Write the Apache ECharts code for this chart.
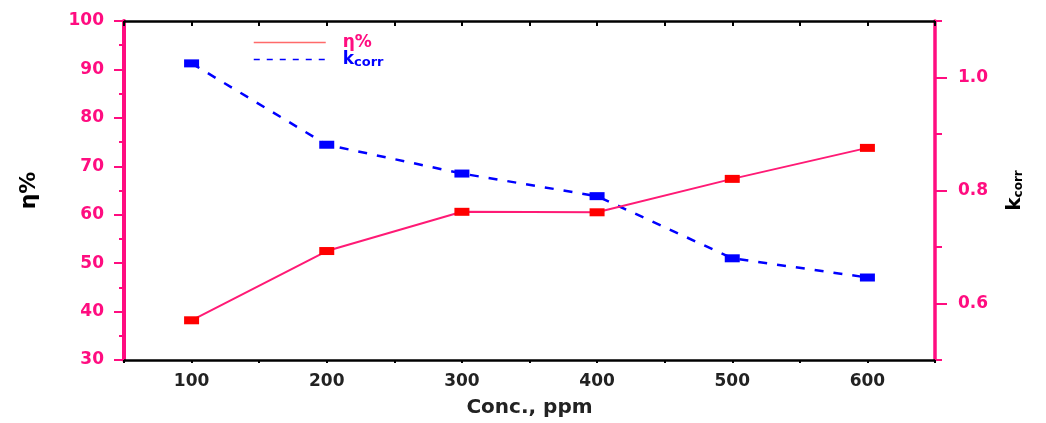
<!DOCTYPE html>
<html lang="en">

<head>
    <meta charset="UTF-8">
    <title>Conc. vs eta / kcorr</title>
    <style>
        html,
        body {
            margin: 0;
            padding: 0;
            background: #fff;
        }

        #chart {
            width: 1046px;
            height: 423px;
        }
    </style>
</head>

<body>
    <div id="chart"></div>
    <script src="https://cdn.jsdelivr.net/npm/echarts@6/dist/echarts.min.js"></script>
    <script>
        var concentrations = ['100', '200', '300', '400', '500', '600'];
        var etaValues = [38.2, 52.5, 60.6, 60.5, 67.4, 73.8];
        var kcorrValues = [1.025, 0.881, 0.830, 0.790, 0.680, 0.646];
        var kcorrTickLabels = [0.6, 0.8, 1.0];

        var pink = '#ff0d80';
        var blue = '#0000ff';
        var fontFamily = 'DejaVu Sans';

        var chart = echarts.init(document.getElementById('chart'));

        var option = {
            backgroundColor: '#fff',
            animation: false,
            grid: {
                left: 124,
                right: 111,
                top: 21,
                bottom: 57
            },
            legend: {
                orient: 'vertical',
                left: 248,
                top: 29,
                itemWidth: 72,
                itemHeight: 12,
                itemGap: 0,
                itemStyle: {
                    opacity: 0
                },
                textStyle: {
                    fontFamily: fontFamily,
                    fontWeight: 'bold',
                    fontSize: 17,
                    padding: [0, 0, 0, 12],
                    rich: {
                        k: {
                            fontFamily: fontFamily,
                            fontWeight: 'bold',
                            fontSize: 17,
                            color: blue
                        },
                        sub: {
                            fontFamily: fontFamily,
                            fontWeight: 'bold',
                            fontSize: 13,
                            color: blue,
                            padding: [6, 0, 0, 0]
                        }
                    }
                },
                formatter: function(name) {
                    if (name === 'kcorr') return '{k|k}{sub|corr}';
                    return name;
                },
                data: [{
                    name: 'η%',
                    textStyle: { color: pink },
                    lineStyle: { color: '#ff6a6a', width: 1.5 }
                }, {
                    name: 'kcorr',
                    lineStyle: { color: blue, width: 1.5, type: [6, 7] }
                }]
            },
            xAxis: [{
                // data axis with labels and major ticks
                type: 'category',
                position: 'bottom',
                data: concentrations,
                boundaryGap: true,
                name: 'Conc., ppm',
                nameLocation: 'middle',
                nameGap: 38,
                nameTextStyle: {
                    fontFamily: fontFamily,
                    fontWeight: 'bold',
                    fontSize: 20,
                    color: '#222'
                },
                axisLine: { lineStyle: { color: '#000', width: 2.5 } },
                axisTick: { alignWithLabel: true, length: 6, lineStyle: { color: '#000', width: 2 } },
                axisLabel: {
                    margin: 13,
                    fontFamily: fontFamily,
                    fontWeight: 'bold',
                    fontSize: 17,
                    color: '#222'
                },
                splitLine: { show: false }
            }, {
                // minor ticks between categories
                type: 'value',
                position: 'bottom',
                min: 50,
                max: 650,
                interval: 50,
                axisLine: { show: false },
                axisTick: { length: 3, lineStyle: { color: '#000', width: 2 } },
                axisLabel: { show: false },
                splitLine: { show: false }
            }, {
                // top frame
                type: 'value',
                position: 'top',
                min: 50,
                max: 650,
                interval: 50,
                axisLine: { lineStyle: { color: '#000', width: 2.5 } },
                axisTick: { inside: true, length: 5, lineStyle: { color: '#000', width: 2 } },
                axisLabel: { show: false },
                splitLine: { show: false }
            }],
            yAxis: [{
                type: 'value',
                position: 'left',
                min: 30,
                max: 100,
                interval: 10,
                name: 'η%',
                nameLocation: 'middle',
                nameRotate: 90,
                nameGap: 84,
                nameTextStyle: {
                    fontFamily: fontFamily,
                    fontWeight: 'bold',
                    fontSize: 22,
                    color: '#000'
                },
                axisLine: { show: true, lineStyle: { color: pink, width: 4 } },
                axisTick: { show: true, length: 10, lineStyle: { color: pink, width: 2 } },
                minorTick: { show: true, splitNumber: 2, length: 5, lineStyle: { color: pink, width: 2 } },
                axisLabel: {
                    margin: 20,
                    fontFamily: fontFamily,
                    fontWeight: 'bold',
                    fontSize: 17,
                    color: pink
                },
                splitLine: { show: false }
            }, {
                type: 'value',
                position: 'right',
                min: 0.5,
                max: 1.1,
                interval: 0.1,
                name: '{k|k}{sub|corr}',
                nameLocation: 'middle',
                nameRotate: 90,
                nameGap: 70,
                nameTextStyle: {
                    rich: {
                        k: {
                            fontFamily: fontFamily,
                            fontWeight: 'bold',
                            fontSize: 20,
                            color: '#000'
                        },
                        sub: {
                            fontFamily: fontFamily,
                            fontWeight: 'bold',
                            fontSize: 12,
                            color: '#000',
                            padding: [8, 0, 0, 0]
                        }
                    }
                },
                axisLine: { show: true, lineStyle: { color: pink, width: 3.5 } },
                axisTick: { show: true, length: 7, lineStyle: { color: pink, width: 2 } },
                axisLabel: {
                    margin: 23,
                    fontFamily: fontFamily,
                    fontWeight: 'bold',
                    fontSize: 17,
                    color: pink,
                    formatter: function(v) {
                        var r = Math.round(v * 10) / 10;
                        return kcorrTickLabels.indexOf(r) >= 0 ? r.toFixed(1) : '';
                    }
                },
                splitLine: { show: false }
            }, {
                // longer ticks for the labelled kcorr values
                type: 'value',
                position: 'right',
                min: 0.5,
                max: 1.1,
                axisLine: { show: false },
                axisTick: { show: true, length: 12, customValues: kcorrTickLabels, lineStyle: { color: pink, width: 2 } },
                axisLabel: { show: false },
                splitLine: { show: false }
            }],
            series: [{
                name: 'η%',
                type: 'line',
                xAxisIndex: 0,
                yAxisIndex: 0,
                data: etaValues,
                symbol: 'rect',
                symbolSize: [15, 8],
                itemStyle: { color: '#ff0000' },
                lineStyle: { color: '#ff1a75', width: 2 },
                z: 3
            }, {
                name: 'kcorr',
                type: 'line',
                xAxisIndex: 0,
                yAxisIndex: 1,
                data: kcorrValues,
                symbol: 'rect',
                symbolSize: [15, 8],
                itemStyle: { color: blue },
                lineStyle: { color: blue, width: 2.5, type: [9, 10] },
                z: 2
            }]
        };

        chart.setOption(option);
    </script>
</body>

</html>
